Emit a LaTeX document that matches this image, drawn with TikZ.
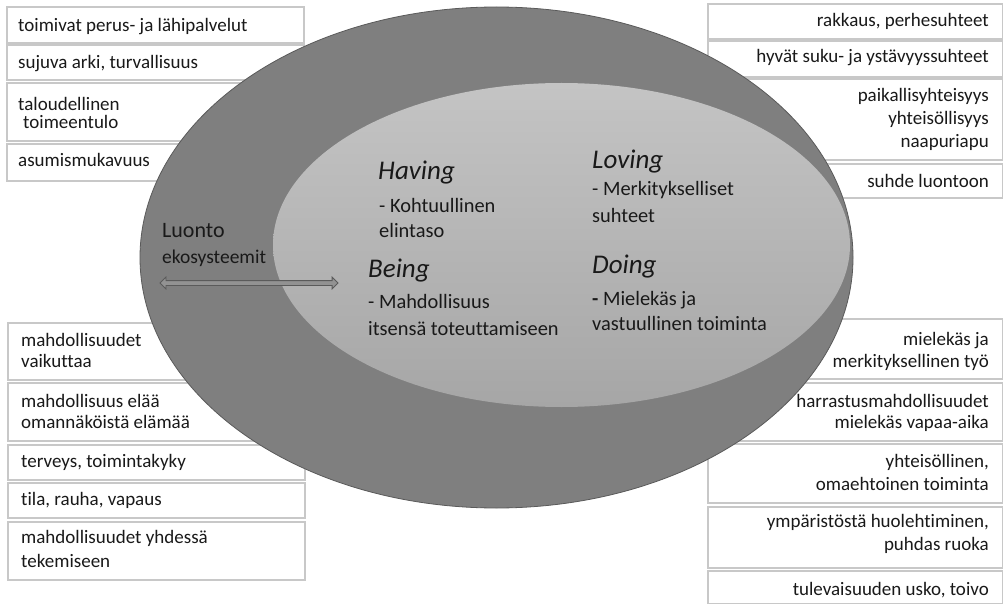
\documentclass[tikz,border=0pt]{standalone}
\usepackage{fontspec}
\setmainfont{Carlito}[Ligatures={NoCommon}]
\usetikzlibrary{shapes.arrows}
\definecolor{boxgray}{RGB}{200,200,200}
\definecolor{outerfill}{RGB}{127,127,127}
\definecolor{outerline}{RGB}{90,90,90}
\definecolor{innertop}{RGB}{196,196,196}
\definecolor{innerbot}{RGB}{166,166,166}
\definecolor{txt}{RGB}{25,25,25}
\begin{document}
\begin{tikzpicture}[x=1pt,y=-1pt,
  boxframe/.style={draw=boxgray, line width=1.6pt, fill=white, rectangle, inner sep=0pt, anchor=north west},
  lt/.style={anchor=base west, inner sep=0pt, text=txt, font=\fontsize{19}{22}\selectfont},
  rt/.style={anchor=base east, inner sep=0pt, text=txt, font=\fontsize{19}{22}\selectfont},
  head/.style={anchor=base west, inner sep=0pt, text=txt, font=\fontsize{27}{32}\selectfont\itshape},
  desc/.style={anchor=base west, inner sep=0pt, text=txt, font=\fontsize{20.4}{24}\selectfont},
]
\useasboundingbox (0,0) rectangle (1003,604);
\fill[white] (0,0) rectangle (1003,604);

% left top frames
\node[boxframe, minimum width=297pt, minimum height=36pt] (bl1) at (6,6) {};
\node[boxframe, minimum width=297pt, minimum height=35pt] (bl2) at (6,44) {};
\node[boxframe, minimum width=297pt, minimum height=58pt] (bl3) at (6,82) {};
\node[boxframe, minimum width=297pt, minimum height=37pt] (bl4) at (6,143) {};
% left bottom frames
\node[boxframe, minimum width=297pt, minimum height=57pt] (bl5) at (7,322) {};
\node[boxframe, minimum width=297pt, minimum height=58pt] (bl6) at (7,382) {};
\node[boxframe, minimum width=297pt, minimum height=35pt] (bl7) at (7,444) {};
\node[boxframe, minimum width=297pt, minimum height=35pt] (bl8) at (7,482) {};
\node[boxframe, minimum width=297pt, minimum height=58pt] (bl9) at (7,521) {};
% right top frames
\node[boxframe, minimum width=295pt, minimum height=35pt] (br1) at (707,3) {};
\node[boxframe, minimum width=295pt, minimum height=36pt] (br2) at (707,40) {};
\node[boxframe, minimum width=295pt, minimum height=81pt] (br3) at (707,78) {};
\node[boxframe, minimum width=295pt, minimum height=34pt] (br4) at (707,163) {};
% right bottom frames
\node[boxframe, minimum width=295pt, minimum height=60pt] (br5) at (707,318) {};
\node[boxframe, minimum width=295pt, minimum height=58pt] (br6) at (707,382) {};
\node[boxframe, minimum width=295pt, minimum height=59pt] (br7) at (707,443) {};
\node[boxframe, minimum width=295pt, minimum height=61pt] (br8) at (707,506) {};
\node[boxframe, minimum width=295pt, minimum height=33pt] (br9) at (707,570) {};

% ellipses
\draw[fill=outerfill, draw=outerline, line width=0.8pt] (496.5,257.5) ellipse [x radius=356.5pt, y radius=250.5pt];
\shade[top color=innertop, bottom color=innerbot] (561.5,245) ellipse [x radius=288.5pt, y radius=162pt];

% left top texts
\node[lt] (t1) at (18,32) {toimivat perus- ja lähipalvelut};
\node[lt] (t2) at (18,69) {sujuva arki, turvallisuus};
\node[lt] (t3a) at (18,111) {taloudellinen};
\node[lt] (t3b) at (23,129) {toimeentulo};
\node[lt] (t4) at (18,167) {asumismukavuus};
% left bottom texts
\node[lt] (t5a) at (21,346) {mahdollisuudet};
\node[lt] (t5b) at (21,367) {vaikuttaa};
\node[lt] (t6a) at (21,407) {mahdollisuus elää};
\node[lt] (t6b) at (21,428) {omannäköistä elämää};
\node[lt] (t7) at (21,467) {terveys, toimintakyky};
\node[lt] (t8) at (21,505) {tila, rauha, vapaus};
\node[lt] (t9a) at (21,543) {mahdollisuudet yhdessä};
\node[lt] (t9b) at (21,567) {tekemiseen};
% right top texts
\node[rt] (r1) at (989,27) {rakkaus, perhesuhteet};
\node[rt] (r2) at (989,63) {hyvät suku- ja ystävyyssuhteet};
\node[rt] (r3a) at (989,102) {paikallisyhteisyys};
\node[rt] (r3b) at (989,125) {yhteisöllisyys};
\node[rt] (r3c) at (989,148) {naapuriapu};
\node[rt] (r4) at (989,187) {suhde luontoon};
% right bottom texts
\node[rt] (r5a) at (989,345) {mielekäs ja};
\node[rt] (r5b) at (989,367) {merkityksellinen työ};
\node[rt] (r6a) at (989,407) {harrastusmahdollisuudet};
\node[rt] (r6b) at (989,428) {mielekäs vapaa-aika};
\node[rt] (r7a) at (989,467) {yhteisöllinen,};
\node[rt] (r7b) at (989,490) {omaehtoinen toiminta};
\node[rt] (r8a) at (989,527) {ympäristöstä huolehtiminen,};
\node[rt] (r8b) at (989,550) {puhdas ruoka};
\node[rt] (r9) at (989,595) {tulevaisuuden usko, toivo};

% Luonto
\node[anchor=base west, inner sep=0pt, text=txt, font=\fontsize{22}{26}\selectfont] (luonto) at (162,237) {Luonto};
\node[anchor=base west, inner sep=0pt, text=txt, font=\fontsize{19.5}{23}\selectfont] (eko) at (162,263) {ekosysteemit};
\node[double arrow, draw=outerline, fill=outerfill!85!white, line width=0.8pt, inner sep=2pt,
      double arrow head extend=3.5pt, double arrow head indent=0pt,
      minimum height=178pt] (arr) at (249,283) {};

% inner texts
\node[head] (having) at (378,180) {Having};
\node[desc] (hav1) at (379,212) {- Kohtuullinen};
\node[desc] (hav2) at (379,237) {elintaso};
\node[head] (being) at (368,277) {Being};
\node[desc] (bei1) at (368,308) {- Mahdollisuus};
\node[desc] (bei2) at (368,335) {itsensä toteuttamiseen};
\node[head] (loving) at (592,168) {Loving};
\node[desc] (lov1) at (592,195) {- Merkitykselliset};
\node[desc] (lov2) at (592,222) {suhteet};
\node[head] (doing) at (592,273) {Doing};
\node[desc] (doi1) at (592,305) {\textbf{-} Mielekäs ja};
\node[desc] (doi2) at (592,330) {vastuullinen toiminta};
\end{tikzpicture}
\end{document}
